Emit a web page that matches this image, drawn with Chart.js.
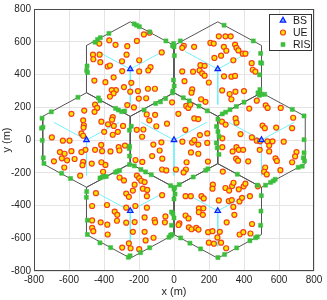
<!DOCTYPE html>
<html>
<head>
<meta charset="utf-8">
<script src="https://cdn.jsdelivr.net/npm/chart.js@4/dist/chart.umd.min.js"></script>
<style>body{margin:0;background:#fff}</style>
</head>
<body>
<canvas id="myChart" width="327" height="300"></canvas>
<script>
// base stations (cell centres) and hexagon size
const bsX = [0, -250, 250, -500, 500, -250, 250]
const bsY = [0, 433, 433, 0, 0, -433, -433]
const cellRadius = 288.7
const sectorLength = 216
const sectorAngles = [30, 150, 270]

// user positions
const uePoints = [
  // centre cell
  [-11,230],[70,208],[82,196],[93,216],[25,160],[-156,156],[-108,154],[-141,120],[116,132],[139,128],
  [-40,100],[-101,84],[65,62],[-213,62],[-175,64],[148,30],[190,40],[-118,-28],[-72,-14],[48,-10],
  [103,-16],[116,0],[139,-28],[190,-18],[-82,-64],[-67,-114],[-125,-98],[72,-136],[97,-76],[139,-84],
  [194,-132],[-220,-122],[-181,-134],[-68,-180],[-44,-186],[11,-180],[68,-180],[55,-198],[-182,20],
  // upper left
  [-172,645],[-140,655],[-212,605],[-370,609],[-334,581],[-427,589],[-267,573],[-70,535],[-463,521],[-425,521],
  [-461,493],[-421,475],[-379,449],[-366,455],[-271,521],[-297,481],[-199,487],[-134,445],[-147,425],[-199,419],
  [-296,421],[-345,383],[-455,363],[-392,353],[-286,323],[-332,305],[-356,305],[-345,285],[-250,295],[-206,299],
  [-201,253],[-149,313],[-109,313],[-159,255],[-229,199],[-267,213],[-366,265],[-244,349],
  // upper right
  [256,633],[294,633],[324,633],[208,593],[227,589],[115,569],[56,575],[47,563],[285,569],[349,583],
  [357,563],[299,545],[368,547],[393,527],[408,527],[269,515],[231,501],[339,487],[151,457],[175,453],
  [146,425],[109,417],[47,419],[161,407],[175,393],[60,359],[199,351],[286,389],[328,387],[349,391],
  [444,469],[450,429],[465,417],[275,303],[351,295],[318,281],[328,249],[400,299],[104,309],[100,289],
  [155,249],[180,233],
  // left
  [-451,216],[-439,196],[-513,180],[-454,172],[-586,160],[-519,120],[-515,90],[-517,76],[-415,112],[-377,96],
  [-350,140],[-354,124],[-344,86],[-291,86],[-321,50],[-350,32],[-399,50],[-529,40],[-519,26],[-597,-4],
  [-635,-4],[-698,16],[-416,-30],[-451,-60],[-411,-68],[-506,-60],[-529,-74],[-316,-44],[-312,-64],[-280,-34],
  [-363,-70],[-652,-74],[-625,-84],[-586,-68],[-611,-124],[-641,-112],[-686,-130],[-568,-116],[-519,-134],[-523,-154],
  [-470,-144],[-627,-168],[-536,-218],[-392,-152],[-405,-194],[-415,-136],
  // right
  [473,240],[524,212],[535,196],[430,192],[610,196],[681,136],[675,72],[584,76],[506,88],[519,72],
  [352,132],[274,112],[295,94],[357,106],[380,36],[445,16],[473,-4],[492,-8],[534,-8],[563,-8],
  [544,-34],[627,-10],[276,10],[276,-44],[357,-44],[370,-60],[395,-60],[335,-70],[355,-114],[366,-126],
  [424,-130],[490,-60],[544,-70],[580,-112],[588,-128],[608,-184],[700,-74],[692,-100],[675,-136],[521,-168],
  [515,-194],[530,-210],
  // lower left
  [-212,-217],[-199,-233],[-311,-229],[-286,-247],[-225,-273],[-187,-249],[-168,-257],[-178,-297],[-153,-305],[-235,-309],
  [-273,-327],[-258,-347],[-155,-343],[-446,-325],[-68,-337],[-273,-413],[-221,-403],[-155,-413],[-383,-397],[-339,-437],
  [-324,-457],[-468,-403],[-468,-491],[-419,-503],[-381,-517],[-326,-493],[-273,-505],[-225,-501],[-168,-473],[-111,-487],
  [-108,-503],[-49,-467],[-468,-537],[-461,-557],[-379,-577],[-235,-561],[-168,-561],[-117,-597],[-162,-613],[-296,-657],
  [-248,-661],[-258,-631],[-199,-667],[-52,-503],
  // lower right
  [279,-193],[222,-273],[220,-297],[294,-293],[315,-309],[332,-281],[340,-261],[398,-283],[408,-267],[370,-301],
  [479,-283],[434,-343],[66,-343],[96,-343],[157,-343],[170,-357],[256,-369],[313,-373],[330,-367],[374,-375],
  [389,-353],[339,-409],[345,-457],[142,-417],[142,-441],[168,-417],[165,-457],[66,-461],[83,-479],[31,-509],
  [85,-533],[100,-545],[127,-537],[140,-547],[195,-563],[220,-557],[262,-561],[301,-503],[375,-577],[396,-563],
  [446,-513],[437,-571],[199,-627],[228,-633],[269,-627],[248,-595],[298,-661],[26,-519]
]

// RIS positions (mostly on the cell borders)
const risPoints = [
  [-228,709],[-214,701],[-198,692],[-139,660],[-46,605],[0,569],[-8,575],[2,515],[-3,366],[1,330],
  [-6,300],[-8,288],[-372,651],[-421,625],[-437,614],[-451,597],[-497,452],[-499,424],[-494,412],[-48,253],
  [-77,233],[-105,223],[-171,183],[-334,193],[-318,183],[-299,173],[-282,177],[-432,257],[-423,240],
  [-549,261],[-701,172],[-754,133],[-749,78],[-757,72],[-753,-2],[-747,-109],[-743,-143],[-642,-203],[-591,-235],
  [-423,-232],[-410,-226],[-400,-223],[-387,-223],[-334,-197],[-324,-191],[-311,-186],
  [-244,84],[-255,60],[-254,-38],[-256,-52],[-254,-150],[-254,-98],
  [-227,-158],[-189,-180],[-162,-195],[-130,-212],[-19,-279],[0,-300],[6,-330],[4,-290],[-6,-450],[0,-476],
  [-14,-521],[-19,-581],[-11,-577],[0,-360],[-14,-440],
  [-499,-315],[-501,-350],[-495,-490],[-495,-577],[-423,-628],[-362,-657],[-261,-716],[-251,-707],[-191,-688],[-139,-658],
  [-29,-594],[-17,-583],
  [286,701],[453,605],[495,529],[501,469],[480,288],[489,273],[501,279],[518,279],[495,472],[489,398],
  [491,308],[-2,589],[36,605],[53,258],[87,239],[143,207],[190,178],
  [276,159],[295,170],[320,185],[356,205],[400,231],
  [251,127],[243,83],[251,52],[257,22],[247,-48],[242,-18],[257,-88],
  [676,187],[743,147],[743,2],[739,-109],[743,-78],[746,-128],[710,-167],[733,-160],
  [523,-276],[552,-259],[567,-250],[578,-240],[194,-176],[181,-185],[110,-226],[30,-272],
  [362,-209],[476,-276],[499,-340],[497,-434],[495,-521],[476,-591],[466,-597],[434,-615],[358,-659],[289,-699],
  [251,-718],[152,-665],[91,-630],[38,-598]
]

const xTicks = [-800, -600, -400, -200, 0, 200, 400, 600, 800]
const yTicks = [-800, -600, -400, -200, 0, 200, 400, 600, 800]

const toRad = d => d * Math.PI / 180

// cell outlines and sector lines
const lineSets = []
bsX.forEach((cx, i) => {
  const cy = bsY[i]
  const hex = []
  for (let k = 0; k <= 6; k++) {
    const a = toRad(90 + 60 * k)
    hex.push({ x: cx + cellRadius * Math.cos(a), y: cy + cellRadius * Math.sin(a) })
  }
  lineSets.push({
    data: hex, showLine: true, borderColor: '#555555', borderWidth: 1,
    pointRadius: 0, order: 5
  })
  sectorAngles.forEach(deg => {
    lineSets.push({
      data: [{ x: cx, y: cy },
             { x: cx + sectorLength * Math.cos(toRad(deg)), y: cy + sectorLength * Math.sin(toRad(deg)) }],
      showLine: true, borderColor: '#72f2fa', borderWidth: 1,
      pointRadius: 0, order: 4
    })
  })
})

const data = {
  datasets: [
    {
      label: 'BS',
      data: bsX.map((x, i) => ({ x, y: bsY[i] })),
      pointStyle: 'triangle', pointRadius: 3.2,
      backgroundColor: '#7ab4ff', borderColor: '#0a1eff', borderWidth: 1.2, order: 0
    },
    {
      label: 'UE',
      data: uePoints.map(p => ({ x: p[0], y: p[1] })),
      pointStyle: 'circle', pointRadius: 2.5,
      backgroundColor: '#ffe600', borderColor: '#f2401a', borderWidth: 1.2, order: 2
    },
    {
      label: 'RIS',
      data: risPoints.map(p => ({ x: p[0], y: p[1] })),
      pointStyle: 'rect', pointRadius: 2.9,
      backgroundColor: '#3dbf3d', borderColor: '#3dbf3d', borderWidth: 0.5, order: 1
    },
    ...lineSets
  ]
}

const tickFont = { family: 'Liberation Sans, Arial, sans-serif', size: 10 }

// axes box + legend drawn the MATLAB way (inside the plot)
const boxAndLegend = {
  id: 'boxAndLegend',
  afterDraw(chart) {
    const { ctx, chartArea: a } = chart
    ctx.save()
    ctx.strokeStyle = '#4a4a4a'
    ctx.lineWidth = 1
    ctx.strokeRect(Math.round(a.left) + 0.5, Math.round(a.top) + 0.5,
      Math.round(a.right - a.left) - 1, Math.round(a.bottom - a.top) - 1)

    const lx = Math.round(a.right) - 45, ly = Math.round(a.top) + 5
    ctx.fillStyle = '#fff'
    ctx.fillRect(lx, ly, 43, 37)
    ctx.strokeStyle = '#333'
    ctx.strokeRect(lx + 0.5, ly + 0.5, 42, 36)

    const mx = lx + 14
    ctx.font = '10.5px "Liberation Sans", Arial, sans-serif'
    ctx.textBaseline = 'middle'
    const rows = chart.data.datasets.slice(0, 3)
    rows.forEach((ds, i) => {
      const y = ly + 6.5 + i * 12
      ctx.fillStyle = ds.backgroundColor
      ctx.strokeStyle = ds.borderColor
      ctx.lineWidth = ds.borderWidth
      ctx.beginPath()
      if (ds.pointStyle === 'triangle') {
        const r = ds.pointRadius
        ctx.moveTo(mx, y - r)
        ctx.lineTo(mx + r * 0.87, y + r * 0.5)
        ctx.lineTo(mx - r * 0.87, y + r * 0.5)
        ctx.closePath()
      } else if (ds.pointStyle === 'circle') {
        ctx.arc(mx, y, ds.pointRadius, 0, Math.PI * 2)
      } else {
        const s = ds.pointRadius * Math.SQRT1_2
        ctx.rect(mx - s, y - s, 2 * s, 2 * s)
      }
      ctx.fill()
      ctx.stroke()
      ctx.fillStyle = '#1a1a1a'
      ctx.fillText(ds.label, lx + 24, y + 0.5)
    })
    ctx.restore()
  }
}

const config = {
  type: 'scatter',
  data,
  options: {
    responsive: false,
    animation: false,
    layout: { padding: { top: 4, right: 13, left: 0, bottom: 0 } },
    plugins: { legend: { display: false }, tooltip: { enabled: false } },
    scales: {
      x: {
        type: 'linear', min: -800, max: 800,
        afterBuildTicks: s => { s.ticks = xTicks.map(v => ({ value: v })) },
        afterFit: s => { s.height = 29 },
        grid: { color: '#e4e4e4', drawTicks: false },
        border: { display: false },
        ticks: { font: tickFont, color: '#262626', padding: 3, maxRotation: 0 },
        title: { display: true, text: 'x (m)', font: { family: tickFont.family, size: 11 }, color: '#262626', padding: { top: 0, bottom: 1 } }
      },
      y: {
        type: 'linear', min: -800, max: 800,
        afterBuildTicks: s => { s.ticks = yTicks.map(v => ({ value: v })) },
        afterFit: s => { s.width = 34 },
        grid: { color: '#e4e4e4', drawTicks: false },
        border: { display: false },
        ticks: { font: tickFont, color: '#262626', padding: 3 },
        title: { display: true, text: 'y (m)', font: { family: tickFont.family, size: 11 }, color: '#262626', padding: 0 }
      }
    }
  },
  plugins: [boxAndLegend]
}

const myChart = new Chart(document.getElementById('myChart').getContext('2d'), config)
</script>
</body>
</html>
